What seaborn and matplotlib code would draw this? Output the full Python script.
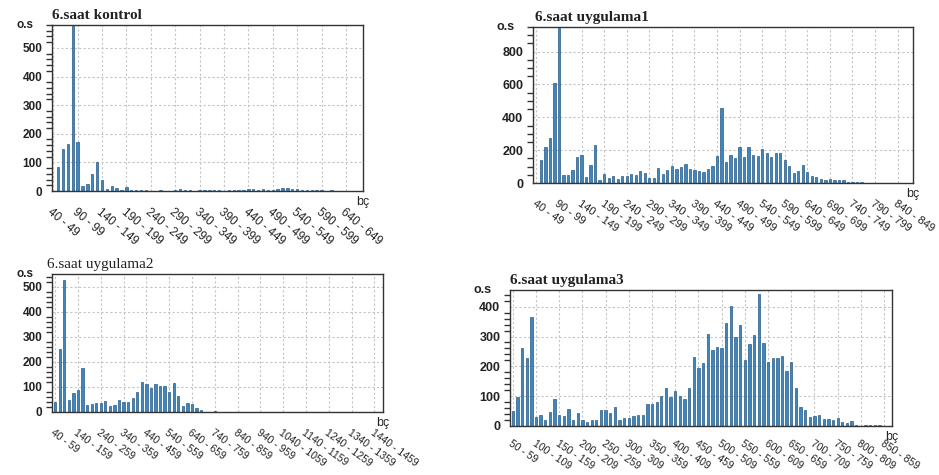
import numpy as np
import pandas as pd
import matplotlib
matplotlib.use("Agg")
import matplotlib.pyplot as plt
import seaborn as sns
from matplotlib.ticker import MultipleLocator
from matplotlib.transforms import ScaledTranslation

# --- DATA ---
# 6.saat kontrol: bins of 10 starting at 40
kontrol_start, kontrol_step = 40, 10
kontrol_counts = [0, 85, 147, 163, 575, 170, 19, 23, 59, 101,
                  38, 6, 17, 10, 5, 14, 2, 2, 2, 2,
                  1, 0, 2, 0, 0, 2, 7, 3, 3, 0,
                  3, 4, 4, 4, 4, 0, 3, 3, 3, 3,
                  6, 7, 5, 6, 4, 3, 8, 10, 12, 7,
                  8, 4, 3, 3, 3, 2, 0, 2, 0, 0,
                  0, 0, 0, 0]
kontrol_ticks = ["40 - 49", "90 - 99", "140 - 149", "190 - 199", "240 - 249",
                 "290 - 299", "340 - 349", "390 - 399", "440 - 449", "490 - 499",
                 "540 - 549", "590 - 599", "640 - 649"]

# 6.saat uygulama1: bins of 10 starting at 40
uyg1_start, uyg1_step = 40, 10
uyg1_counts = [0, 142, 217, 277, 607, 945, 51, 51, 81, 156,
               170, 34, 109, 231, 16, 55, 32, 40, 26, 40,
               40, 53, 51, 75, 61, 30, 30, 89, 57, 81,
               105, 85, 99, 115, 85, 79, 75, 68, 83, 106,
               164, 455, 126, 170, 152, 219, 158, 217, 172, 162,
               208, 182, 156, 182, 182, 142, 103, 61, 75, 111,
               65, 40, 34, 24, 18, 24, 16, 20, 20, 8,
               4, 6, 6, 3, 2, 1, 0, 0, 0, 0,
               0, 0, 0, 0]
uyg1_ticks = ["40 - 49", "90 - 99", "140 - 149", "190 - 199", "240 - 249",
              "290 - 299", "340 - 349", "390 - 399", "440 - 449", "490 - 499",
              "540 - 549", "590 - 599", "640 - 649", "690 - 699", "740 - 749",
              "790 - 799", "840 - 849"]

# 6.saat uygulama2: bins of 20 starting at 40
uyg2_start, uyg2_step = 40, 20
uyg2_counts = [38, 252, 528, 48, 76, 88, 175, 28, 31, 34,
               35, 44, 25, 28, 46, 38, 39, 56, 80, 118,
               110, 95, 112, 104, 103, 79, 115, 64, 25, 36,
               31, 16, 8, 0, 0, 3, 0, 0, 0, 0,
               0, 0, 0, 0, 0, 0, 0, 0, 0, 0,
               0, 0, 0, 0, 0, 0, 0, 0, 0, 0,
               0, 0, 0, 0, 0, 0, 0, 0, 0, 0,
               0, 0]
uyg2_ticks = ["40 - 59", "140 - 159", "240 - 259", "340 - 359", "440 - 459",
              "540 - 559", "640 - 659", "740 - 759", "840 - 859", "940 - 959",
              "1040 - 1059", "1140 - 1159", "1240 - 1259", "1340 - 1359",
              "1440 - 1459"]

# 6.saat uygulama3: bins of 10 starting at 50
uyg3_start, uyg3_step = 50, 10
uyg3_counts = [49, 96, 261, 228, 365, 29, 38, 21, 48, 90,
               36, 33, 56, 19, 43, 20, 15, 20, 19, 53,
               54, 45, 64, 19, 26, 28, 34, 36, 37, 75,
               74, 81, 99, 126, 96, 118, 102, 90, 129, 233,
               193, 211, 310, 255, 265, 262, 345, 401, 300, 340,
               222, 274, 304, 444, 278, 214, 228, 228, 234, 183,
               216, 127, 65, 52, 31, 34, 36, 22, 25, 19,
               27, 13, 11, 16, 2, 1, 3, 2, 2, 2,
               1, 0]
uyg3_ticks = ["50 - 59", "100 - 109", "150 - 159", "200 - 209", "250 - 259",
              "300 - 309", "350 - 359", "400 - 409", "450 - 459", "500 - 509",
              "550 - 559", "600 - 609", "650 - 659", "700 - 709", "750 - 759",
              "800 - 809", "850 - 859"]

BAR_FACE = "#3f86bf"
BAR_EDGE = "#1c4f7c"
SANS = ["Liberation Sans", "DejaVu Sans"]
SERIF = ["Liberation Serif", "DejaVu Serif"]

sns.set_style("white")
plt.rcParams["font.family"] = SANS


def draw_panel(fig, rect, counts, start, step, ticks, title, title_bold, title_x,
               ymax, ymajor, yminor, xlim, ysize, xsize, xrot, xpad):
    ax = fig.add_axes(rect)
    bins = [f"{start + i * step} - {start + i * step + step - 1}"
            for i in range(len(counts))]
    df = pd.DataFrame({"bin": bins, "count": counts})
    sns.barplot(data=df, x="bin", y="count", color=BAR_FACE, saturation=1,
                width=0.5, edgecolor=BAR_EDGE, linewidth=0.45, ax=ax)

    ax.set_xlabel("")
    ax.set_ylabel("")

    ax.set_xticks(range(0, 5 * len(ticks), 5))
    ax.set_xticklabels(ticks, rotation=xrot, ha="left", va="top",
                       rotation_mode="anchor", fontsize=xsize, color="#222222")
    shift = ScaledTranslation(-8 / 100, 0, fig.dpi_scale_trans)
    for lbl in ax.get_xticklabels():
        lbl.set_transform(lbl.get_transform() + shift)

    yt = list(range(0, int(ymax * 0.97), ymajor))
    ax.set_yticks(yt)
    ax.set_yticklabels([str(v) for v in yt], fontsize=ysize,
                       fontweight="bold", color="#222222")
    ax.yaxis.set_minor_locator(MultipleLocator(yminor))
    ax.set_xlim(*xlim)
    ax.set_ylim(0, ymax)

    ax.tick_params(axis="x", length=0, pad=xpad)
    ax.tick_params(axis="y", which="major", direction="out", length=6,
                   width=1, color="#333333", pad=1)
    ax.tick_params(axis="y", which="minor", direction="out", length=4.5,
                   width=1, color="#333333", left=True)

    ax.grid(True, axis="both", which="major", color="#c4c4c4",
            linestyle=(0, (2, 2)), linewidth=0.8)
    ax.set_axisbelow(True)
    for side in ["left", "right", "top", "bottom"]:
        ax.spines[side].set_visible(True)
        ax.spines[side].set_color("#333333")
        ax.spines[side].set_linewidth(1.0)

    ax.set_title(title, loc="left", x=title_x, pad=4, fontsize=11,
                 fontweight="bold" if title_bold else "normal",
                 family=SERIF, color="#222222")
    ax.annotate("o.s", xy=(0, 1), xycoords="axes fraction", xytext=(-13, 0),
                textcoords="offset points", ha="right", va="center",
                fontsize=ysize, fontweight="bold", color="#222222")
    ax.annotate("bç", xy=(1, 0), xycoords="axes fraction", xytext=(0, -8),
                textcoords="offset points", ha="center", va="center",
                fontsize=9, color="#222222")
    return ax


fig = plt.figure(figsize=(9.39, 4.75), dpi=100)
W, H = 939, 475


def rect(left, right, top, bottom):
    return [left / W, 1 - bottom / H, (right - left) / W, (bottom - top) / H]


draw_panel(fig, rect(52, 363, 25, 191), kontrol_counts, kontrol_start,
           kontrol_step, kontrol_ticks, "6.saat kontrol", True, 0.0,
           580, 100, 20, (-0.25, 63.5), 8.5, 8.5, -40, 11)
draw_panel(fig, rect(533, 913, 27, 183), uyg1_counts, uyg1_start,
           uyg1_step, uyg1_ticks, "6.saat uygulama1", True, 0.005,
           950, 200, 50, (-0.75, 83.4), 9, 8, -35, 11)
draw_panel(fig, rect(52, 383, 274, 412), uyg2_counts, uyg2_start,
           uyg2_step, uyg2_ticks, "6.saat uygulama2", False, -0.015,
           550, 100, 20, (-0.7, 71.9), 8.5, 7.5, -36, 11)
draw_panel(fig, rect(510, 892, 290, 426), uyg3_counts, uyg3_start,
           uyg3_step, uyg3_ticks, "6.saat uygulama3", True, 0.0,
           456, 100, 20, (-0.6, 81.7), 9, 7.5, -34, 9)

fig.savefig("out.png", dpi=100)
